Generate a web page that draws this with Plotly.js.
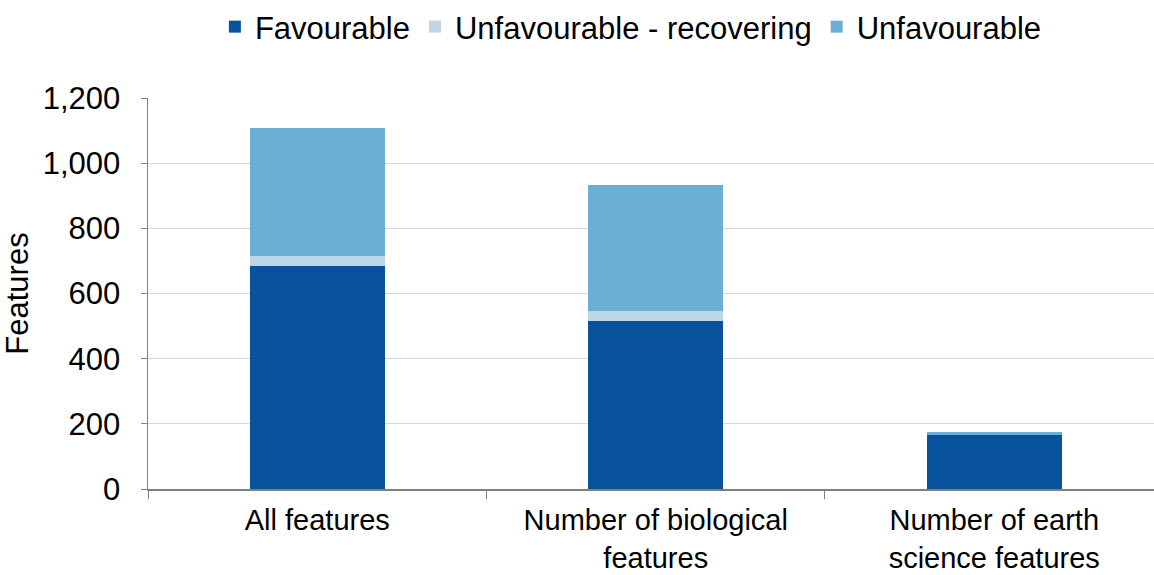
<!DOCTYPE html>
<html>
<head>
<meta charset="utf-8">
<script src="https://cdn.plot.ly/plotly-3.0.1.min.js"></script>
<style>
  html, body { margin: 0; padding: 0; background: #fff; }
  #chart { width: 1154px; height: 575px; }
</style>
</head>
<body>
<div id="chart"></div>
<script>
// categories and stacked values
const categories = ["All features", "Number of biological<br>features", "Number of earth<br>science features"];
const favourable = [684, 517, 167];
const unfavRecovering = [31, 30, 0];
const unfavourable = [392, 385, 7];

const seriesNames = ["Favourable", "Unfavourable - recovering", "Unfavourable"];
const seriesColors = ["#08529c", "#bdd7e7", "#6baed6"];

const font = "Liberation Sans, Arial, sans-serif";

const traces = [favourable, unfavRecovering, unfavourable].map((vals, i) => ({
  type: "bar",
  name: seriesNames[i],
  x: categories,
  y: vals,
  marker: { color: seriesColors[i], line: { width: 0 } },
  hoverinfo: "y+name",
}));

Plotly.newPlot("chart", traces, {
  width: 1154,
  height: 575,
  barmode: "stack",
  bargap: 0.6,
  margin: { l: 148, r: 0, t: 98, b: 86, pad: 0 },
  paper_bgcolor: "#fff",
  plot_bgcolor: "#fff",
  font: { family: font, size: 31, color: "#000" },
  showlegend: true,
  legend: {
    orientation: "h",
    x: 0.48, xanchor: "center",
    y: 1, yanchor: "top",
    yref: "container",
    font: { family: font, size: 31, color: "#000" },
    itemwidth: 30,
    traceorder: "normal",
  },
  xaxis: {
    type: "category",
    range: [-0.5, 2.472],
    showgrid: false,
    showline: true,
    linecolor: "#808080",
    linewidth: 1.5,
    ticks: "outside",
    tickson: "boundaries",
    ticklen: 8,
    tickcolor: "#808080",
    ticklabelstandoff: 5,
    tickfont: { family: font, size: 29, color: "#000" },
    automargin: false,
  },
  yaxis: {
    range: [0, 1200],
    dtick: 200,
    tickformat: ",d",
    showgrid: true,
    gridcolor: "#d9d9d9",
    gridwidth: 1,
    showline: true,
    linecolor: "#808080",
    linewidth: 1.5,
    ticks: "outside",
    ticklen: 6,
    tickcolor: "#808080",
    ticklabelstandoff: 14,
    zeroline: false,
    tickfont: { family: font, size: 31, color: "#000" },
    title: { text: "Features", font: { family: font, size: 31, color: "#000" }, standoff: 6 },
    automargin: false,
  },
}, { displayModeBar: false, staticPlot: true });
</script>
</body>
</html>
